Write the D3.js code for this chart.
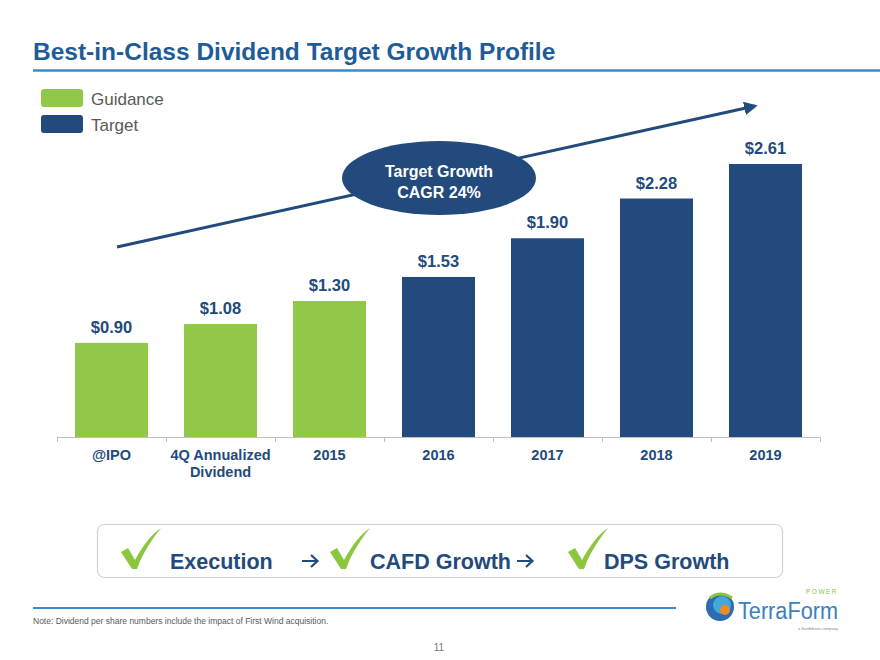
<!DOCTYPE html>
<html>
<head>
<meta charset="utf-8">
<script src="https://cdn.jsdelivr.net/npm/d3@7"></script>
<style>
  html, body { margin: 0; padding: 0; background: #fff; }
  svg { display: block; font-family: "Liberation Sans", Arial, sans-serif; }
</style>
</head>
<body>
<svg id="chart" width="880" height="660"></svg>
<script>
const categories = ["@IPO", "4Q Annualized|Dividend", "2015", "2016", "2017", "2018", "2019"];
const values = [0.90, 1.08, 1.30, 1.53, 1.90, 2.28, 2.61];
const seriesType = ["Guidance", "Guidance", "Guidance", "Target", "Target", "Target", "Target"];
const legendItems = ["Guidance", "Target"];
const valueLabels = ["$0.90", "$1.08", "$1.30", "$1.53", "$1.90", "$2.28", "$2.61"];
const flowSteps = ["Execution", "CAFD Growth", "DPS Growth"];

const GREEN = "#92C84A", NAVY = "#224A7C", TITLE = "#1F5B98", LINEBLUE = "#3D8BC6";
const svg = d3.select("#chart");

// Title
svg.append("text").attr("x", 33).attr("y", 60).attr("fill", TITLE)
  .attr("font-size", 24.5).attr("font-weight", "bold").text("Best-in-Class Dividend Target Growth Profile");
svg.append("line").attr("x1", 33).attr("x2", 880).attr("y1", 70.5).attr("y2", 70.5)
  .attr("stroke", LINEBLUE).attr("stroke-width", 2.5);

// Legend
const color = d3.scaleOrdinal().domain(legendItems).range([GREEN, NAVY]);
legendItems.forEach((k, i) => {
  svg.append("rect").attr("x", 41).attr("y", 89 + i * 26).attr("width", 42).attr("height", 18)
    .attr("rx", 3).attr("fill", color(k));
  svg.append("text").attr("x", 91).attr("y", 105 + i * 26).attr("fill", "#595959")
    .attr("font-size", 17).text(k);
});

// Scales
const x = d3.scaleBand().domain(categories).range([57, 820]).paddingInner(0.33).paddingOuter(0.165);
const y = d3.scaleLinear().domain([0, 2.61]).range([437, 164]);

// Bars
svg.selectAll("rect.bar").data(values).join("rect").attr("class", "bar")
  .attr("x", (d, i) => x(categories[i])).attr("width", x.bandwidth())
  .attr("y", d => y(d)).attr("height", d => y(0) - y(d))
  .attr("fill", (d, i) => color(seriesType[i]));

// Value labels
svg.selectAll("text.val").data(values).join("text").attr("class", "val")
  .attr("x", (d, i) => x(categories[i]) + x.bandwidth() / 2).attr("y", d => y(d) - 10)
  .attr("text-anchor", "middle").attr("fill", NAVY).attr("font-size", 16.5).attr("font-weight", "bold")
  .text((d, i) => valueLabels[i]);

// Axis
const axisG = svg.append("g");
axisG.append("line").attr("x1", 57).attr("x2", 820).attr("y1", 437.5).attr("y2", 437.5)
  .attr("stroke", "#BFBFBF").attr("stroke-width", 1.2);
d3.range(categories.length + 1).forEach(i => {
  const tx = Math.round(57 + i * (763 / categories.length)) + 0.5;
  axisG.append("line").attr("x1", tx).attr("x2", tx).attr("y1", 437).attr("y2", 442)
    .attr("stroke", "#BFBFBF");
});
categories.forEach(c => {
  const lines = c.split("|");
  const t = svg.append("text").attr("x", x(c) + x.bandwidth() / 2).attr("y", 460)
    .attr("text-anchor", "middle").attr("fill", NAVY).attr("font-size", 14.5).attr("font-weight", "bold");
  lines.forEach((l, j) => t.append("tspan").attr("x", x(c) + x.bandwidth() / 2).attr("dy", j ? 17 : 0).text(l));
});

// Growth arrow
const defs = svg.append("defs");
defs.append("marker").attr("id", "ah").attr("viewBox", "0 0 10 10").attr("refX", 8).attr("refY", 5)
  .attr("markerWidth", 4.5).attr("markerHeight", 4.5).attr("orient", "auto")
  .append("path").attr("d", "M0,0 L10,5 L0,10 Z").attr("fill", NAVY);
svg.append("line").attr("x1", 117).attr("y1", 247).attr("x2", 755).attr("y2", 106)
  .attr("stroke", NAVY).attr("stroke-width", 3).attr("marker-end", "url(#ah)");
svg.append("ellipse").attr("cx", 439).attr("cy", 178).attr("rx", 97).attr("ry", 37).attr("fill", NAVY);
svg.append("text").attr("x", 439).attr("y", 177).attr("text-anchor", "middle").attr("fill", "#fff")
  .attr("font-size", 16).attr("font-weight", "bold").text("Target Growth");
svg.append("text").attr("x", 439).attr("y", 198).attr("text-anchor", "middle").attr("fill", "#fff")
  .attr("font-size", 16).attr("font-weight", "bold").text("CAGR 24%");

// Flow box
svg.append("rect").attr("x", 97.5).attr("y", 524.5).attr("width", 685).attr("height", 53).attr("rx", 7)
  .attr("fill", "#fff").attr("stroke", "#CDD3DC").attr("stroke-width", 1.2);
const stepX = [170, 370, 604];
const checkX = [121, 330, 568];
const arrowX = [302, 517];
function check(cx) {
  const p = `M${cx},552 L${cx + 7},548 L${cx + 14},560 C${cx + 22},545 ${cx + 32},533 ${cx + 40},528 C${cx + 32},538 ${cx + 22},552 ${cx + 16},569 L${cx + 11},569 Z`;
  svg.append("path").attr("d", p).attr("fill", "#8CC63F");
}
flowSteps.forEach((s, i) => {
  check(checkX[i]);
  svg.append("text").attr("x", stepX[i]).attr("y", 569).attr("fill", NAVY).attr("font-size", 21.5)
    .attr("font-weight", "bold").text(s);
});
arrowX.forEach(ax => {
  svg.append("path").attr("d", `M${ax},561 L${ax + 15},561 M${ax + 9},555 L${ax + 15.5},561 L${ax + 9},567`)
    .attr("stroke", NAVY).attr("stroke-width", 2.2).attr("fill", "none");
});

// Footer
svg.append("line").attr("x1", 33).attr("x2", 676).attr("y1", 608).attr("y2", 608)
  .attr("stroke", LINEBLUE).attr("stroke-width", 2);
svg.append("text").attr("x", 33).attr("y", 624).attr("fill", "#595959").attr("font-size", 8.5)
  .text("Note: Dividend per share numbers include the impact of First Wind acquisition.");
svg.append("text").attr("x", 439).attr("y", 651).attr("text-anchor", "middle").attr("fill", "#777")
  .attr("font-size", 10).text("11");

// Logo
const lg = svg.append("g");
lg.append("circle").attr("cx", 720).attr("cy", 607).attr("r", 14).attr("fill", "#2A6DB5");
lg.append("circle").attr("cx", 722).attr("cy", 605).attr("r", 9).attr("fill", "#45A9D8");
lg.append("circle").attr("cx", 725).attr("cy", 610).attr("r", 5).attr("fill", "#F08A24");
lg.append("path").attr("d", "M710,598 Q720,590 732,598").attr("stroke", "#8CC63F").attr("stroke-width", 3).attr("fill", "none");
lg.append("text").attr("x", 738).attr("y", 619).attr("fill", "#3B7FC0").attr("font-size", 23)
  .attr("textLength", 100).attr("lengthAdjust", "spacingAndGlyphs")
  .attr("font-family", "'Liberation Sans Narrow', 'Liberation Sans', sans-serif").text("TerraForm");
lg.append("text").attr("x", 806).attr("y", 594).attr("fill", "#8CC63F").attr("font-size", 6.5)
  .attr("letter-spacing", 1.5).text("POWER");
lg.append("text").attr("x", 838).attr("y", 630).attr("text-anchor", "end").attr("fill", "#888").attr("font-size", 4)
  .text("a SunEdison company");
</script>
</body>
</html>
